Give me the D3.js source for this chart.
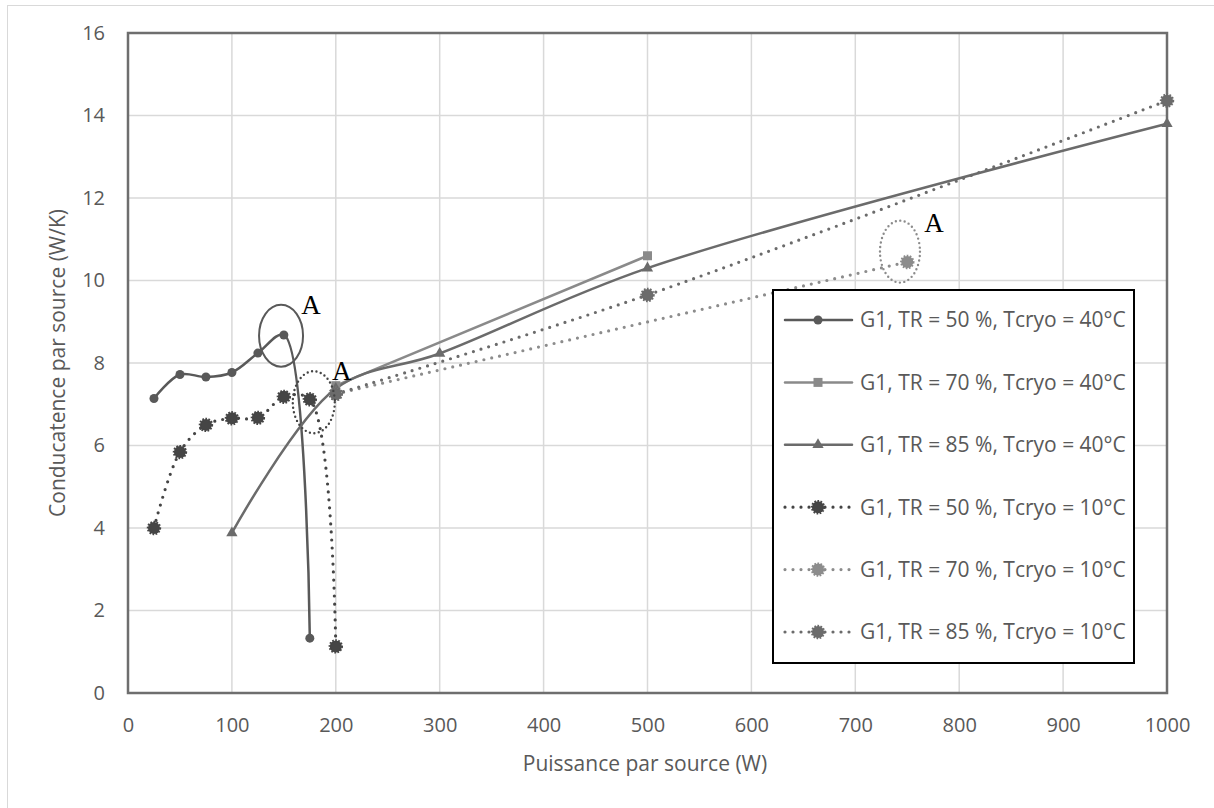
<!DOCTYPE html>
<html><head><meta charset="utf-8">
<script src="https://cdn.jsdelivr.net/npm/d3@7"></script>
<style>body{margin:0;background:#fff} svg{display:block}</style>
</head><body>
<svg id="chart" width="1214" height="808"></svg>
<script>
// ---- data ----
const xTicks = [0,100,200,300,400,500,600,700,800,900,1000];
const yTicks = [0,2,4,6,8,10,12,14,16];
const seriesNames = [
  "G1, TR = 50 %, Tcryo = 40°C",
  "G1, TR = 70 %, Tcryo = 40°C",
  "G1, TR = 85 %, Tcryo = 40°C",
  "G1, TR = 50 %, Tcryo = 10°C",
  "G1, TR = 70 %, Tcryo = 10°C",
  "G1, TR = 85 %, Tcryo = 10°C"
];
const s1x = [25,50,75,100,125,150,175];
const s1y = [7.14,7.72,7.66,7.77,8.24,8.68,1.33];
const s2x = [200,500];
const s2y = [7.45,10.6];
const s3x = [100,200,300,500,1000];
const s3y = [3.88,7.38,8.23,10.3,13.8];
const s4x = [25,50,75,100,125,150,175,200];
const s4y = [4.0,5.84,6.5,6.66,6.67,7.18,7.12,1.13];
const s5x = [200,750];
const s5y = [7.25,10.45];
const s6x = [200,500,1000];
const s6y = [7.25,9.65,14.36];
// annotations (ellipse centre in data units)
const annX = [147.3,178.8,743];
const annY = [8.66,7.05,10.7];
const annLabel = ["A","A","A"];

// ---- styles ----
const styles = [
  {color:"#595959", dash:null, marker:"circle"},
  {color:"#8a8a8a", dash:null, marker:"square"},
  {color:"#6b6b6b", dash:null, marker:"triangle"},
  {color:"#454545", dash:"0 8", marker:"burst"},
  {color:"#8c8c8c", dash:"0 8", marker:"burst"},
  {color:"#6b6b6b", dash:"0 8", marker:"burst"}
];
const annStyle = [
  {color:"#595959", dash:null, w:2, dx:30, dy:-22, rx:22, ry:31},
  {color:"#454545", dash:"0 4.5", w:2.4, dx:28, dy:-22, rx:21, ry:31},
  {color:"#8c8c8c", dash:"0 4.5", w:2.4, dx:34, dy:-20, rx:20, ry:31}
];
const xs = [s1x,s2x,s3x,s4x,s5x,s6x];
const ys = [s1y,s2y,s3y,s4y,s5y,s6y];
const series = seriesNames.map((n,i)=>({name:n, pts:xs[i].map((x,j)=>({x, y:ys[i][j]})), ...styles[i]}));

const L=128,R=1167,T=33,B=693;
const svg = d3.select("#chart");
const FONT = "'Open Sans', sans-serif";
const TXT = "#595959";

svg.append("rect").attr("x",7.5).attr("y",5.5).attr("width",1300).attr("height",900)
  .attr("fill","#fff").attr("stroke","#d9d9d9").attr("stroke-width",1);

const x = d3.scaleLinear().domain([0,1000]).range([L,R]);
const y = d3.scaleLinear().domain([0,16]).range([B,T]);

// gridlines
const g = svg.append("g");
g.selectAll(".gx").data(xTicks).join("line")
  .attr("x1",d=>x(d)).attr("x2",d=>x(d)).attr("y1",T).attr("y2",B)
  .attr("stroke","#d9d9d9").attr("stroke-width",1.5);
g.selectAll(".gy").data(yTicks).join("line")
  .attr("x1",L).attr("x2",R).attr("y1",d=>y(d)).attr("y2",d=>y(d))
  .attr("stroke","#d9d9d9").attr("stroke-width",1.5);

// axes labels via d3 axes
const xAxis = svg.append("g").attr("transform",`translate(0,${B})`)
  .call(d3.axisBottom(x).tickValues(xTicks).tickSize(0).tickPadding(25).tickFormat(d3.format("d")));
const yAxis = svg.append("g").attr("transform",`translate(${L},0)`)
  .call(d3.axisLeft(y).tickValues(yTicks).tickSize(0).tickPadding(23).tickFormat(d3.format("d")));
[xAxis,yAxis].forEach(a=>{
  a.select(".domain").remove();
  a.selectAll("text").attr("font-family",FONT).attr("font-size",20).attr("fill",TXT);
});

// plot frame
svg.append("rect").attr("x",L).attr("y",T).attr("width",R-L).attr("height",B-T)
  .attr("fill","none").attr("stroke","#6e6e6e").attr("stroke-width",2.5);

// axis titles
svg.append("text").attr("x",645).attr("y",771).attr("text-anchor","middle")
  .attr("font-family",FONT).attr("font-size",21).attr("fill",TXT).text("Puissance par source (W)");
svg.append("text").attr("transform",`translate(65,${(T+B)/2}) rotate(-90)`).attr("text-anchor","middle")
  .attr("font-family",FONT).attr("font-size",21).attr("fill",TXT).text("Conducatence par source (W/K)");

// lines (smoothed)
const line = d3.line().x(d=>x(d.x)).y(d=>y(d.y)).curve(d3.curveCatmullRom.alpha(0.5));
const plot = svg.append("g");
series.forEach(s=>{
  plot.append("path").attr("d",line(s.pts)).attr("fill","none").attr("stroke",s.color)
    .attr("stroke-width",s.dash?3.2:2.5).attr("stroke-linecap","round")
    .attr("stroke-dasharray",s.dash);
});

function drawMarker(sel, type, color){
  if(type==="circle"){
    sel.append("circle").attr("r",4.5).attr("fill",color);
  } else if(type==="square"){
    sel.append("rect").attr("x",-4.5).attr("y",-4.5).attr("width",9).attr("height",9).attr("fill",color);
  } else if(type==="triangle"){
    sel.append("path").attr("d",d3.symbol(d3.symbolTriangle,55)()).attr("fill",color);
  } else {
    sel.append("circle").attr("r",6).attr("fill",color)
      .attr("stroke",color).attr("stroke-width",2.4).attr("stroke-dasharray","1.6 1.4");
  }
}
series.forEach(s=>{
  s.pts.forEach(p=>{
    const m = plot.append("g").attr("transform",`translate(${x(p.x)},${y(p.y)})`);
    drawMarker(m, s.marker, s.color);
  });
});

// annotations
const ann = svg.append("g");
annX.forEach((ax,i)=>{
  const cx = x(ax), cy = y(annY[i]), st = annStyle[i];
  ann.append("ellipse").attr("cx",cx).attr("cy",cy).attr("rx",st.rx).attr("ry",st.ry)
    .attr("fill","none").attr("stroke",st.color)
    .attr("stroke-width",st.w).attr("stroke-dasharray",st.dash)
    .attr("stroke-linecap","round");
  ann.append("text").attr("x",cx+st.dx).attr("y",cy+st.dy)
    .attr("font-family","'Liberation Serif', serif").attr("font-size",27).attr("fill","#000")
    .attr("text-anchor","middle").text(annLabel[i]);
});

// legend
const lg = svg.append("g");
lg.append("rect").attr("x",773).attr("y",290).attr("width",361).attr("height",373)
  .attr("fill","#fff").attr("stroke","#000").attr("stroke-width",2);
series.forEach((s,i)=>{
  const ly = 320 + i*62.4;
  const e = lg.append("g").attr("transform",`translate(0,${ly})`);
  e.append("line").attr("x1",785).attr("x2",852).attr("y1",0).attr("y2",0)
    .attr("stroke",s.color).attr("stroke-width",s.dash?3.2:2.5).attr("stroke-linecap","round")
    .attr("stroke-dasharray",s.dash?"0 8":null);
  const m = e.append("g").attr("transform","translate(818,0)");
  drawMarker(m, s.marker, s.color);
  e.append("text").attr("x",860).attr("y",0).attr("dy","0.35em")
    .attr("font-family",FONT).attr("font-size",21).attr("fill",TXT).text(s.name);
});
</script>
</body></html>
